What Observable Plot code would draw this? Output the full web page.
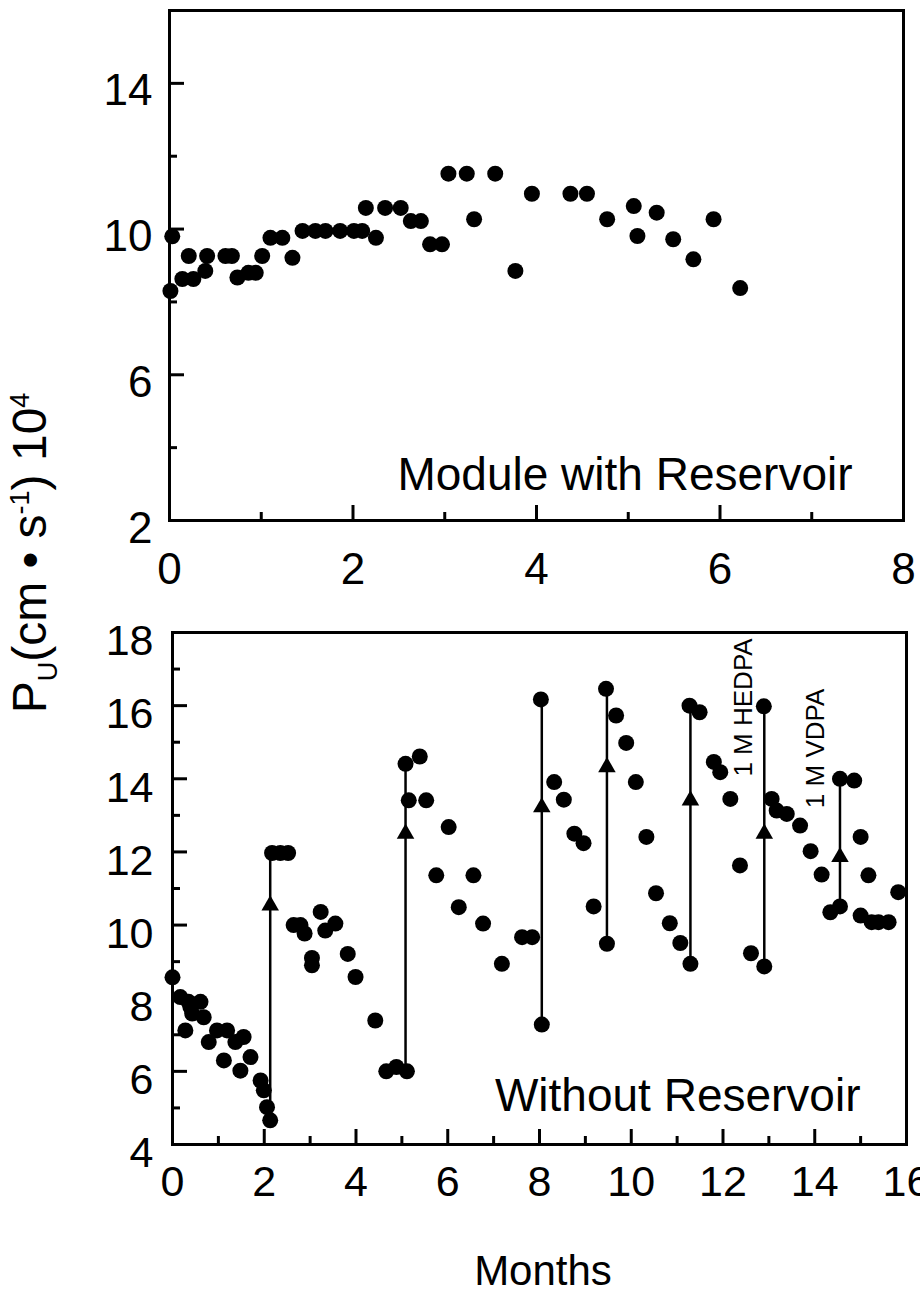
<!DOCTYPE html>
<html><head><meta charset="utf-8">
<script src="https://cdn.jsdelivr.net/npm/d3@7"></script>
<script src="https://cdn.jsdelivr.net/npm/@observablehq/plot@0.6"></script>
<style>
body{margin:0;background:#fff;}
#wrap{position:relative;width:920px;height:1295px;font-family:"Liberation Sans",Arial,Helvetica,sans-serif;color:#000;overflow:hidden;}
#top,#bottom{position:absolute;left:0;}
#top{top:0}
#bottom{top:600px}
#ytitle{position:absolute;left:34px;top:553px;transform:translate(-50%,-50%) rotate(-90deg);white-space:nowrap;font-size:48px;line-height:1;}
#ytitle sub,#ytitle sup{font-size:27px;}
#xtitle{position:absolute;left:543px;top:1271px;transform:translate(-50%,-50%);font-size:42px;white-space:nowrap;line-height:1;}
</style></head>
<body>
<div id="wrap">
  <div id="top"></div>
  <div id="bottom"></div>
  <div id="ytitle">P<sub>U</sub>(cm • s<sup>-1</sup>) 10<sup>4</sup></div>
  <div id="xtitle">Months</div>
</div>
<script>
// ---------- Top panel: Module with Reservoir ----------
const topMonths = [0.01,0.03,0.14,0.21,0.26,0.39,0.41,0.61,0.68,0.74,0.86,0.94,1.01,1.10,1.23,1.34,1.45,1.59,1.70,1.86,2.01,2.10,2.14,2.25,2.35,2.52,2.63,2.74,2.84,2.97,3.04,3.24,3.32,3.55,3.77,3.95,4.37,4.55,4.77,5.06,5.10,5.31,5.49,5.71,5.93,6.22];
const topPu     = [8.30,9.80,8.63,9.26,8.63,8.85,9.26,9.26,9.26,8.67,8.80,8.80,9.26,9.76,9.76,9.21,9.95,9.95,9.95,9.95,9.95,9.95,10.58,9.76,10.58,10.58,10.22,10.22,9.58,9.58,11.52,11.52,10.27,11.52,8.85,10.97,10.97,10.97,10.27,10.63,9.81,10.45,9.72,9.17,10.27,8.38];
const topXLabels = [0,2,4,6,8];
const topXMajor = [2,4,6];
const topXMinor = [1,3,5,7];
const topYLabels = [2,6,10,14];
const topYMajor = [6,10,14];
const topYMinor = [4,8,12];
const topLabel = "Module with Reservoir";

// ---------- Bottom panel: Without Reservoir ----------
const botMonths = [0,0.17,0.35,0.39,0.61,0.68,0.28,0.43,0.79,0.97,1.19,1.37,1.55,1.12,1.48,1.70,1.92,1.99,2.06,2.13,
  2.17,2.35,2.52,
  2.64,2.79,2.88,3.04,3.04,3.23,3.33,3.55,3.82,3.99,4.42,4.66,4.88,5.11,
  5.08,5.39,5.15,5.53,6.02,5.75,6.56,6.24,6.77,7.18,7.62,7.84,
  8.05,8.03,8.32,8.53,8.76,8.96,9.18,9.47,
  9.45,9.67,9.89,10.10,10.33,10.54,10.84,11.07,11.29,
  11.27,11.49,11.80,11.94,12.16,12.37,12.61,12.90,
  12.89,13.06,13.17,13.39,13.68,13.91,14.15,14.34,14.55,14.55,14.86,15.00,15.17,15.00,15.24,15.39,15.61,15.82];
const botPu = [8.57,8.03,7.90,7.76,7.90,7.48,7.12,7.58,6.80,7.12,7.12,6.80,6.94,6.30,6.02,6.39,5.75,5.48,5.02,4.66,
  11.97,11.97,11.97,
  10.00,10.00,9.77,9.10,8.90,10.36,9.85,10.04,9.21,8.58,7.39,6.00,6.12,6.00,
  14.41,14.61,13.41,13.41,12.68,11.36,11.36,10.49,10.04,8.94,9.67,9.67,
  7.28,16.17,13.91,13.43,12.50,12.24,10.51,9.49,
  16.46,15.73,14.98,13.91,12.41,10.87,10.05,9.51,8.94,
  16.00,15.82,14.46,14.18,13.45,11.63,9.23,8.87,
  15.98,13.45,13.13,13.04,12.72,12.02,11.38,10.35,10.51,14.00,13.95,12.41,11.36,10.26,10.08,10.08,10.08,10.90];
// additions (vertical arrows)
const addMonth = [2.13,5.08,8.05,9.47,11.29,12.90,14.55];
const addFrom  = [4.66,6.00,7.28,9.49,8.94,8.87,10.51];
const addTo    = [11.97,14.41,16.17,16.46,16.00,15.98,14.00];
const addMid   = [10.54,12.50,13.22,14.32,13.41,12.50,11.86];
const botXLabels = [0,2,4,6,8,10,12,14,16];
const botXMajor = [2,4,6,8,10,12,14];
const botXMinor = [1,3,5,7,9,11,13,15];
const botYLabels = [4,6,8,10,12,14,16,18];
const botYMajor = [6,8,10,12,14,16];
const botYMinor = [5,7,9,11,13,15,17];
const botLabel = "Without Reservoir";
const noteText = ["1 M HEDPA","1 M VDPA"];
const noteMonth = [12.44,14.03];
const notePu = [15.95,14.83];

const FONT = '"Liberation Sans", Arial, Helvetica, sans-serif';
const MAJ = 15, MIN = 8;

function panel({width, height, mt, mb, ml, mr, xdom, ydom, xLabels, xMajor, xMinor, yLabels, yMajor, yMinor, xPad, yPad, yDy, tickFont, extra, label, labelDx, labelDy}) {
  const FH = height - mt - mb;
  const FW = width - ml - mr;
  return Plot.plot({
    width, height, marginTop: mt, marginBottom: mb, marginLeft: ml, marginRight: mr,
    x: {domain: xdom}, y: {domain: ydom},
    style: {fontFamily: FONT, background: "white", color: "black", overflow: "visible"},
    marks: [
      Plot.tickX(xMajor, {x: d => d, insetTop: FH - MAJ, stroke: "black", strokeWidth: 3}),
      Plot.tickX(xMinor, {x: d => d, insetTop: FH - MIN, stroke: "black", strokeWidth: 3}),
      Plot.tickY(yMajor, {y: d => d, insetRight: FW - MAJ, stroke: "black", strokeWidth: 3}),
      Plot.tickY(yMinor, {y: d => d, insetRight: FW - MIN, stroke: "black", strokeWidth: 3}),
      Plot.axisX(xLabels, {tickSize: 0, tickPadding: xPad, fontSize: tickFont, label: null, fill: "black"}),
      Plot.axisY(yLabels, {tickSize: 0, tickPadding: yPad, fontSize: tickFont, label: null, dy: yDy, fill: "black"}),
      ...extra,
      Plot.text([label], {frameAnchor: "bottom-right", dx: labelDx, dy: labelDy, textAnchor: "end", lineAnchor: "bottom", fontSize: 46, fill: "black"}),
      Plot.frame({stroke: "black", strokeWidth: 3})
    ]
  });
}

const topData = topMonths.map((m, i) => ({m, p: topPu[i]}));
document.getElementById("top").append(panel({
  width: 920, height: 600, mt: 10, mb: 80, ml: 169, mr: 17,
  xdom: [0, 8], ydom: [2, 16],
  xLabels: topXLabels, xMajor: topXMajor, xMinor: topXMinor,
  yLabels: topYLabels, yMajor: topYMajor, yMinor: topYMinor,
  xPad: 32, yPad: 17, yDy: 8, tickFont: 44,
  label: topLabel, labelDx: -51, labelDy: -31,
  extra: [Plot.dot(topData, {x: "m", y: "p", r: 8, fill: "black", stroke: "none"})]
}));

const botData = botMonths.map((m, i) => ({m, p: botPu[i]}));
const adds = addMonth.map((m, i) => ({m, from: addFrom[i], to: addTo[i], mid: addMid[i]}));
const notes = noteText.map((t, i) => ({t, m: noteMonth[i], p: notePu[i]}));
document.getElementById("bottom").append(panel({
  width: 920, height: 695, mt: 32, mb: 151, ml: 172, mr: 14,
  xdom: [0, 16], ydom: [4, 18],
  xLabels: botXLabels, xMajor: botXMajor, xMinor: botXMinor,
  yLabels: botYLabels, yMajor: botYMajor, yMinor: botYMinor,
  xPad: 21, yPad: 19, yDy: 9, tickFont: 43,
  label: botLabel, labelDx: -46, labelDy: -34,
  extra: [
    Plot.ruleX(adds, {x: "m", y1: "from", y2: "to", stroke: "black", strokeWidth: 2.5}),
    Plot.dot(adds, {x: "m", y: "mid", symbol: "triangle", r: 6.5, fill: "black", stroke: "none"}),
    Plot.dot(botData, {x: "m", y: "p", r: 8, fill: "black", stroke: "none"}),
    Plot.text(notes, {x: "m", y: "p", text: "t", rotate: -90, fontSize: 26, fill: "black", textAnchor: "middle", lineAnchor: "middle"})
  ]
}));
</script>
</body></html>
